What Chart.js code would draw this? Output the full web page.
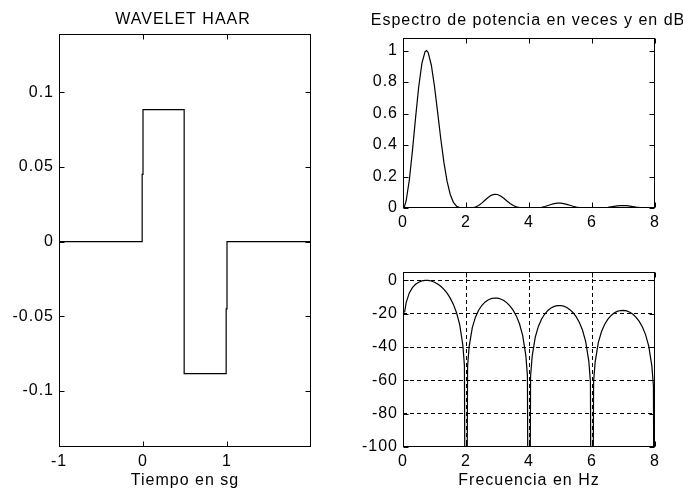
<!DOCTYPE html>
<html>
<head>
<meta charset="utf-8">
<script src="https://cdn.jsdelivr.net/npm/chart.js@4.4.1/dist/chart.umd.min.js"></script>
<style>
  html, body { margin: 0; padding: 0; background: #fff; }
  #wrap { position: relative; width: 683px; height: 491px; overflow: hidden; }
  canvas { position: absolute; left: 0; top: 0; }
</style>
</head>
<body>
<div id="wrap">
  <canvas id="c1" width="683" height="491"></canvas>
  <canvas id="c2" width="683" height="491"></canvas>
  <canvas id="c3" width="683" height="491"></canvas>
</div>
<script>
// ---------- data ----------
const haarTime  = [-1, -0.01, -0.01, 0, 0, 0.49, 0.49, 0.99, 0.99, 1, 1, 2];
const haarValue = [0, 0, 0.045, 0.045, 0.0884, 0.0884, -0.0884, -0.0884, -0.045, -0.045, 0, 0];

const freqHz = [0, 0.05, 0.1, 0.2, 0.3, 0.4, 0.5, 0.6, 0.7, 0.75, 0.8, 0.9,
  1.0, 1.1, 1.2, 1.3, 1.4, 1.5, 1.6, 1.7, 1.8, 1.9, 1.95, 2, 2.05,
  2.1, 2.2, 2.3, 2.4, 2.5, 2.6, 2.7, 2.8, 2.9, 3.0, 3.1, 3.2, 3.3, 3.4, 3.5, 3.6, 3.7, 3.8, 3.9, 3.95, 4, 4.05,
  4.1, 4.2, 4.3, 4.4, 4.5, 4.6, 4.7, 4.8, 4.9, 5.0, 5.1, 5.2, 5.3, 5.4, 5.5, 5.6, 5.7, 5.8, 5.9, 5.95, 6, 6.05,
  6.1, 6.2, 6.3, 6.4, 6.5, 6.6, 6.7, 6.8, 6.9, 7.0, 7.1, 7.2, 7.3, 7.4, 7.5, 7.6, 7.7, 7.8, 7.9, 7.95, 8];

const powerTimes = [0, 0.0117, 0.0462, 0.1760, 0.3644, 0.5759, 0.7720, 0.9186, 0.9930, 0.9999, 0.9868, 0.9070,
  0.7720, 0.6071, 0.4386, 0.2879, 0.1687, 0.0858, 0.0360, 0.0113, 0.0022, 0.0001, 0, 0, 0,
  0.0001, 0.0015, 0.0062, 0.0160, 0.0309, 0.0489, 0.0667, 0.0806, 0.0874, 0.0858, 0.0764, 0.0617, 0.0447, 0.0286, 0.0158, 0.0071, 0.0024, 0.0005, 0, 0, 0, 0,
  0, 0.0004, 0.0018, 0.0048, 0.0095, 0.0156, 0.0220, 0.0274, 0.0306, 0.0309, 0.0282, 0.0234, 0.0173, 0.0113, 0.0064, 0.0029, 0.0010, 0.0002, 0, 0, 0, 0,
  0, 0.0002, 0.0008, 0.0022, 0.0046, 0.0076, 0.0108, 0.0137, 0.0154, 0.0158, 0.0146, 0.0122, 0.0091, 0.0060, 0.0034, 0.0016, 0.0006, 0.0001, 0, 0, 0];

const powerDb = [null, -19.3, -13.35, -7.55, -4.38, -2.40, -1.12, -0.37, -0.03, 0, -0.06, -0.42,
  -1.12, -2.17, -3.58, -5.41, -7.73, -10.67, -14.44, -19.45, -26.63, -38.93, -51.14, -300, -51.57,
  -39.79, -28.37, -22.08, -17.96, -15.10, -13.11, -11.76, -10.94, -10.59, -10.67, -11.17, -12.10, -13.50, -15.44, -18.03, -21.48, -26.21, -33.12, -45.17, -57.27, -300, -57.49,
  -45.61, -33.99, -27.51, -23.22, -20.21, -18.06, -16.57, -15.62, -15.14, -15.10, -15.49, -16.32, -17.61, -19.45, -21.95, -25.32, -29.96, -36.79, -48.77, -60.83, -300, -60.97,
  -49.06, -37.37, -30.83, -26.48, -23.40, -21.20, -19.65, -18.65, -18.12, -18.03, -18.37, -19.14, -20.40, -22.19, -24.65, -27.97, -32.57, -39.37, -51.30, -63.35, -300];

const haarXTicks  = [-1, 0, 1];
const haarYTicks  = [-0.1, -0.05, 0, 0.05, 0.1];
const freqXTicks  = [0, 2, 4, 6, 8];
const powerYTicks = [0, 0.2, 0.4, 0.6, 0.8, 1];
const dbYTicks    = [-100, -80, -60, -40, -20, 0];

const titleHaar  = 'WAVELET HAAR';
const titleSpec  = 'Espectro de potencia en veces y en dB';
const xLabelHaar = 'Tiempo en sg';
const xLabelFreq = 'Frecuencia en Hz';

// ---------- styling ----------
const FONT_FAMILY = '"Liberation Sans", Arial, sans-serif';
const FONT_SIZE = 16;
const LETTER_SP = '1px';
Chart.defaults.font.family = FONT_FAMILY;
Chart.defaults.font.size = FONT_SIZE;
Chart.defaults.color = '#000';

const matlabBox = {
  id: 'mbox',
  beforeUpdate(chart) { chart.ctx.letterSpacing = LETTER_SP; },
  beforeLayout(chart) { chart.ctx.letterSpacing = LETTER_SP; },
  beforeDraw(chart) { chart.ctx.letterSpacing = LETTER_SP; },
  afterDraw(chart, args, opts) {
    const {ctx, chartArea: a, scales} = chart;
    ctx.save();
    ctx.strokeStyle = '#000';
    ctx.lineWidth = 1;
    ctx.setLineDash([]);
    const L = a.left + 0.5, R = a.right - 0.5, T = a.top + 0.5, B = a.bottom - 0.5;
    ctx.strokeRect(L, T, R - L, B - T);
    const tl = opts.tickLen || 5;
    ctx.beginPath();
    scales.x.ticks.forEach(t => {
      const px = Math.round(scales.x.getPixelForValue(t.value)) + 0.5;
      ctx.moveTo(px, B); ctx.lineTo(px, B - tl);
      ctx.moveTo(px, T); ctx.lineTo(px, T + tl);
    });
    scales.y.ticks.forEach(t => {
      const py = Math.round(scales.y.getPixelForValue(t.value)) + 0.5;
      ctx.moveTo(L, py); ctx.lineTo(L + tl, py);
      ctx.moveTo(R, py); ctx.lineTo(R - tl, py);
    });
    ctx.stroke();
    if (opts.title) {
      ctx.letterSpacing = LETTER_SP;
      ctx.fillStyle = '#000';
      ctx.font = FONT_SIZE + 'px ' + FONT_FAMILY;
      ctx.textAlign = 'center';
      ctx.textBaseline = 'alphabetic';
      ctx.fillText(opts.title, (a.left + a.right) / 2 + (opts.titleDx || 0), opts.titleY);
    }
    ctx.restore();
  }
};

function makeChart(id, cfg) {
  const setTicks = arr => scale => { scale.ticks = arr.map(v => ({value: v})); };
  // grid lines only inside the box (edges are drawn by the box itself)
  const innerGrid = (lo, hi) => c => (c.tick && (c.tick.value <= lo || c.tick.value >= hi)) ? 'rgba(0,0,0,0)' : '#000';
  return new Chart(document.getElementById(id), {
    type: 'line',
    data: { datasets: [{
      data: cfg.xs.map((x, i) => ({x: x, y: cfg.ys[i]})),
      borderColor: '#000',
      borderWidth: 1.2,
      pointRadius: 0,
      tension: 0,
      spanGaps: false,
      fill: false
    }]},
    options: {
      responsive: false,
      animation: false,
      devicePixelRatio: 1,
      events: [],
      layout: { padding: cfg.padding },
      plugins: {
        legend: { display: false },
        title: { display: false },
        tooltip: { enabled: false },
        mbox: { title: cfg.title, titleY: cfg.titleY, titleDx: cfg.titleDx, tickLen: 5 }
      },
      scales: {
        x: {
          type: 'linear', min: cfg.xMin, max: cfg.xMax,
          afterBuildTicks: setTicks(cfg.xTicks),
          afterFit: s => { s.height = 44; },
          ticks: { padding: 5, maxRotation: 0, autoSkip: false, callback: v => String(v) },
          grid: { display: !!cfg.grid, drawTicks: false, color: innerGrid(cfg.xMin, cfg.xMax), lineWidth: 1 },
          border: { display: false, dash: [4, 3] },
          title: cfg.xLabel ? { display: true, text: cfg.xLabel, padding: {top: 0, bottom: 1} } : { display: false }
        },
        y: {
          type: 'linear', min: cfg.yMin, max: cfg.yMax,
          afterBuildTicks: setTicks(cfg.yTicks),
          afterFit: s => { s.width = 50; },
          ticks: { padding: 5, autoSkip: false, callback: v => String(v) },
          grid: { display: !!cfg.grid, drawTicks: false, color: innerGrid(cfg.yMin, cfg.yMax), lineWidth: 1 },
          border: { display: false, dash: [4, 3] }
        }
      }
    },
    plugins: [matlabBox]
  });
}

// left: Haar wavelet
makeChart('c1', {
  xs: haarTime, ys: haarValue,
  xMin: -1, xMax: 2, yMin: -0.1375, yMax: 0.139,
  xTicks: haarXTicks, yTicks: haarYTicks,
  padding: {left: 9, right: 372, top: 34, bottom: 0},
  title: titleHaar, titleY: 23.5, titleDx: -2, xLabel: xLabelHaar
});

// top right: power spectrum (linear)
makeChart('c2', {
  xs: freqHz, ys: powerTimes,
  xMin: 0, xMax: 8, yMin: 0, yMax: 1.08,
  xTicks: freqXTicks, yTicks: powerYTicks,
  padding: {left: 353, right: 28, top: 38, bottom: 239},
  title: titleSpec, titleY: 24.5, titleDx: -1
});

// bottom right: power spectrum in dB
makeChart('c3', {
  xs: freqHz, ys: powerDb,
  xMin: 0, xMax: 8, yMin: -100, yMax: 5,
  xTicks: freqXTicks, yTicks: dbYTicks,
  padding: {left: 353, right: 28, top: 272, bottom: 0},
  grid: true, xLabel: xLabelFreq
});
</script>
</body>
</html>
